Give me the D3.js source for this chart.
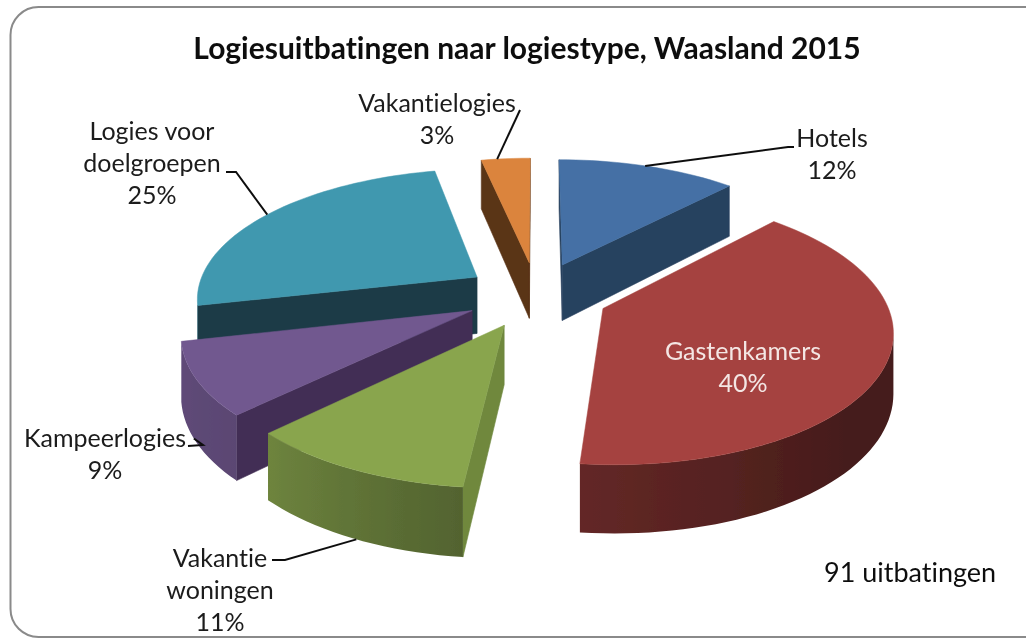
<!DOCTYPE html>
<html><head><meta charset="utf-8">
<script src="https://cdn.jsdelivr.net/npm/d3@7"></script>
<style>html,body{margin:0;padding:0;background:#fff}svg{display:block}text{font-family:Lato,"Open Sans",sans-serif;font-variant-ligatures:none}</style>
</head><body><svg id="c" width="1026" height="639"></svg>
<script>
const categories = ["Hotels","Gastenkamers","Vakantie woningen","Kampeerlogies","Logies voor doelgroepen","Vakantielogies"];
const counts = [11,36,10,8,23,3];
const topColors = ["#4470a5","#a5423f","#89a54e","#71588f","#4198af","#db843d"];
const edgeColors = ["#28425f","#652623","#6f883e","#432f55","#1c3b47","#5a3416"];
const labelLines = [["Hotels"],["Gastenkamers"],["Vakantie","woningen"],["Kampeerlogies"],["Logies voor","doelgroepen"],["Vakantielogies"]];
const labelAnchors = [[832,147],[743,360],[220,567],[105,447],[152,140],[437,112]];
const labelColors = ["#1a1a1a","#f4e6e4","#1a1a1a","#1a1a1a","#1a1a1a","#1a1a1a"];
// leader: degrees on rim, rim height share, then elbow and end offsets
const leaderAngle = [21,null,205,243,303,352];
const leaderDrop  = [0,0,1,1,0,0];
const leaderPath = [[[788,147],[794,147]],null,[[285,560],[272,560]],[[203,445],[188,446]],[[236,172],[226,172]],[[520,110],[520,110]]];

const cx=536.5, cy=294.5, R=281, E=72, H=57.5, A=0.000524, B=0.458;
const svg=d3.select("#c");
const defs=svg.append("defs");
defs.append("filter").attr("id","soft").attr("x",0).attr("y",0).attr("width",1).attr("height",1)
  .append("feGaussianBlur").attr("stdDeviation",0.45);
const root=svg.append("g").attr("filter","url(#soft)");
root.append("rect").attr("width",1026).attr("height",639).attr("fill","#fff");
root.append("rect").attr("x",10.5).attr("y",7).attr("width",1100).attr("height",630).attr("rx",28)
  .attr("fill","#fff").attr("stroke","#8a8a8a").attr("stroke-width",2);

const pie=d3.pie().sort(null)(counts);
const total=d3.sum(counts);
const proj=(u,v,z)=>{const s=1/(1+A*v);return [cx+u*s, cy-B*v*s+z*s];};
const off=d=>{const m=(d.startAngle+d.endAngle)/2;return [E*Math.sin(m),E*Math.cos(m)];};
const rimPt=(d,t,z)=>{const o=off(d);return proj(o[0]+R*Math.sin(t),o[1]+R*Math.cos(t),z);};
const apex=(d,z)=>{const o=off(d);return proj(o[0],o[1],z);};
const shade=d3.scaleLinear().domain([90,130,186,225,260,360]).range([.41,.41,.6,.8,.85,.85]);
const line=d3.line();
const drawOrder=[0,5,4,3,1,2];
const g=root.append("g");
drawOrder.forEach(i=>{
  const d=pie[i], base=d3.color(topColors[i]);
  const n=Math.max(4,Math.ceil((d.endAngle-d.startAngle)/(Math.PI/90)));
  const angs=d3.range(n+1).map(k=>d.startAngle+(d.endAngle-d.startAngle)*k/n);
  const faces=q=>d3.polygonArea(q)>0;
  const wall=(a0,a1,b0,b1,col)=>{const q=[a0,b0,b1,a1];
    if(faces(q)) g.append("path").attr("d",line(q)+"Z").attr("fill",col).attr("stroke",col).attr("stroke-width",.6);};
  // edge walls
  wall(apex(d,0),apex(d,H),rimPt(d,d.startAngle,0),rimPt(d,d.startAngle,H),edgeColors[i]);
  wall(rimPt(d,d.endAngle,0),rimPt(d,d.endAngle,H),apex(d,0),apex(d,H),edgeColors[i]);
  // rim: one band with a gradient running across its visible angles
  const vis=angs.filter((t,k)=>k<n && faces([rimPt(d,t,0),rimPt(d,angs[k+1],0),rimPt(d,angs[k+1],H),rimPt(d,t,H)]));
  if(vis.length){
    vis.push(vis[vis.length-1]+(d.endAngle-d.startAngle)/n);
    const tops=vis.map(t=>rimPt(d,t,0)), bots=vis.map(t=>rimPt(d,t,H));
    const xs=tops.map(p=>p[0]), x0=d3.min(xs), x1=d3.max(xs);
    const grad=defs.append("linearGradient").attr("id","rim"+i).attr("gradientUnits","userSpaceOnUse")
      .attr("x1",x0).attr("x2",x1).attr("y1",0).attr("y2",0);
    const stops=vis.map((t,k)=>{const f=shade(t*180/Math.PI);
      return {o:(xs[k]-x0)/Math.max(1,x1-x0),c:d3.rgb(base.r*f,base.g*f,base.b*f).formatHex()};}).sort((a,b)=>a.o-b.o);
    stops.forEach(s=>grad.append("stop").attr("offset",s.o).attr("stop-color",s.c));
    g.append("path").attr("d",line([...tops,...bots.reverse()])+"Z").attr("fill","url(#rim"+i+")");
  }
  const topPts=[apex(d,0),...angs.map(t=>rimPt(d,t,0))];
  g.append("path").attr("d",line(topPts)+"Z").attr("fill",topColors[i]).attr("stroke",topColors[i]).attr("stroke-width",.5);
});
// leaders
pie.forEach((d,i)=>{
  if(leaderAngle[i]==null) return;
  const start=rimPt(d,leaderAngle[i]*Math.PI/180,leaderDrop[i]*H);
  root.append("path").attr("d",line([start,...leaderPath[i]])).attr("fill","none").attr("stroke","#111").attr("stroke-width",2);
});
// labels
const fs=25, lh=32;
pie.forEach((d,i)=>{
  const lines=[...labelLines[i],d3.format(".0%")(d.value/total)];
  const t=root.append("text").attr("text-anchor","middle").attr("font-size",fs).attr("fill",labelColors[i]);
  lines.forEach((s,k)=>t.append("tspan").attr("x",labelAnchors[i][0]).attr("y",labelAnchors[i][1]+k*lh).text(s));
});
root.append("text").attr("x",527).attr("y",59).attr("text-anchor","middle").attr("font-size",30).attr("font-weight",700).attr("fill","#111").text("Logiesuitbatingen naar logiestype, Waasland 2015");
root.append("text").attr("x",824).attr("y",582).attr("font-size",27).attr("fill","#111").text(total+" uitbatingen");
</script></body></html>
